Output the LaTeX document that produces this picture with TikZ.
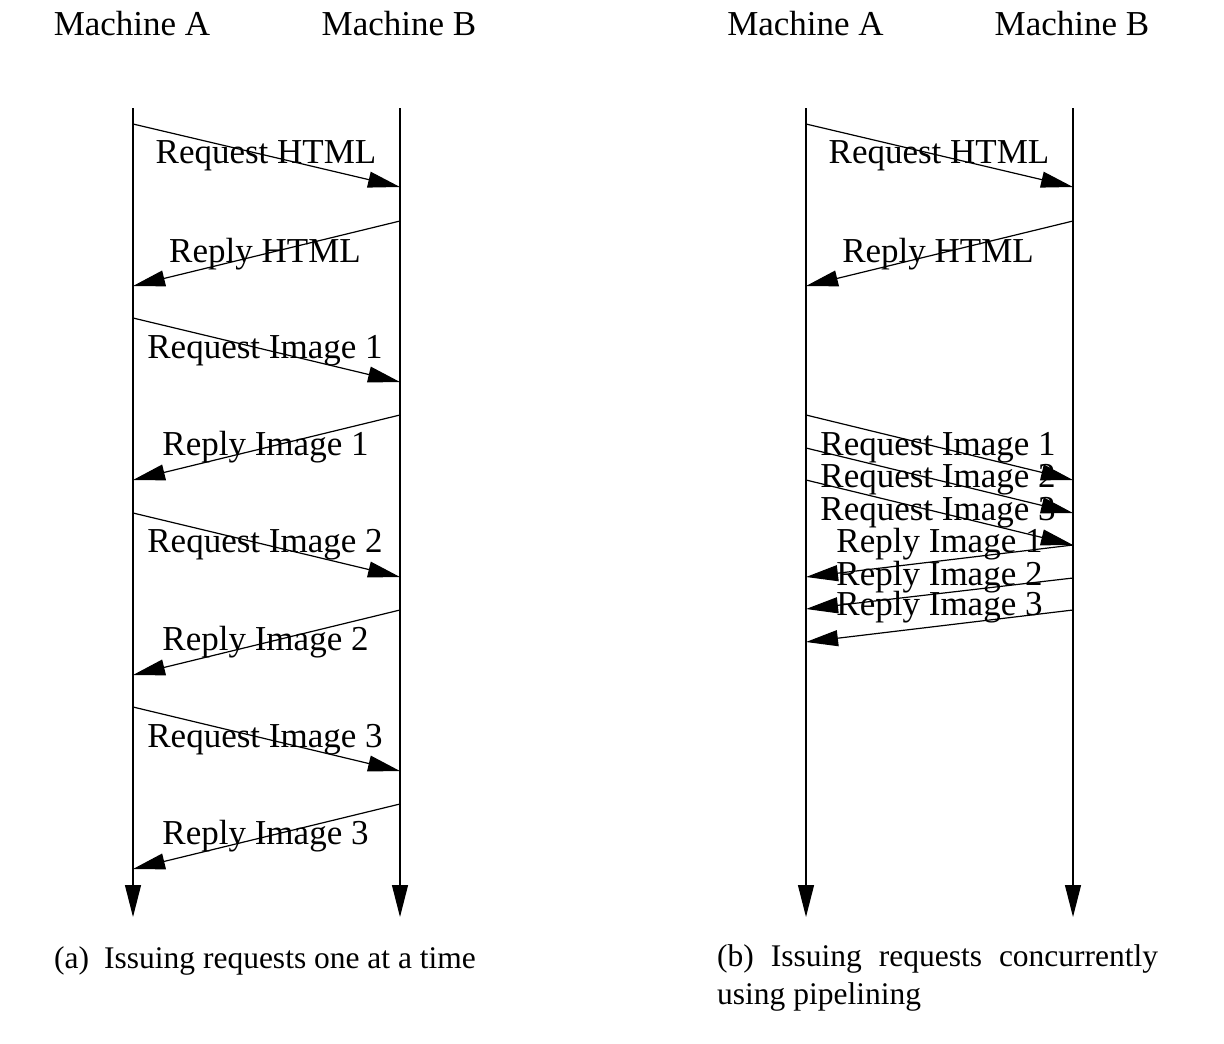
\documentclass[tikz,border=0pt]{standalone}
\usepackage{fontspec}
\setmainfont{Liberation Serif}
\usetikzlibrary{arrows.meta}
\begin{document}
\begin{tikzpicture}[x=1pt,y=-1pt,
  lbl/.style={font=\fontsize{35}{40}\selectfont, inner sep=0pt, anchor=base},
  hdr/.style={font=\fontsize{35}{40}\selectfont, inner sep=0pt, anchor=base},
  capt/.style={font=\fontsize{31.5}{38}\selectfont, inner sep=0pt, anchor=base west},
  life/.style={line width=1.2pt, -{Triangle[length=32pt,width=16pt]}},
  msg/.style={line width=1.2pt, -{Triangle[length=32pt,width=16pt]}}]
\useasboundingbox (0,0) rectangle (1224,1044);
% headers
\node[hdr] (ha1) at (132,35) {Machine A};
\node[hdr] (hb1) at (399,35) {Machine B};
\node[hdr] (ha2) at (805.5,35) {Machine A};
\node[hdr] (hb2) at (1072,35) {Machine B};
% lifelines
\coordinate (a1t) at (133,108); \coordinate (a1b) at (133,917);
\coordinate (b1t) at (400,108); \coordinate (b1b) at (400,917);
\coordinate (a2t) at (806,108); \coordinate (a2b) at (806,917);
\coordinate (b2t) at (1073,108); \coordinate (b2b) at (1073,917);
\draw[life] (a1t) -- (a1b);
\draw[life] (b1t) -- (b1b);
\draw[life] (a2t) -- (a2b);
\draw[life] (b2t) -- (b2b);
% (a) messages
\coordinate (p1) at (133,124); \coordinate (q1) at (400,187);
\coordinate (p2) at (400,221); \coordinate (q2) at (133,286);
\coordinate (p3) at (133,318); \coordinate (q3) at (400,382);
\coordinate (p4) at (400,415); \coordinate (q4) at (133,480);
\coordinate (p5) at (133,513); \coordinate (q5) at (400,577);
\coordinate (p6) at (400,610); \coordinate (q6) at (133,675);
\coordinate (p7) at (133,707); \coordinate (q7) at (400,771);
\coordinate (p8) at (400,804); \coordinate (q8) at (133,869);
\foreach \i in {1,...,8} {\draw[msg] (p\i) -- (q\i);}
\node[lbl] (l1) at (266,163) {Request HTML};
\node[lbl] (l2) at (265,262) {Reply HTML};
\node[lbl] (l3) at (265,358) {Request Image 1};
\node[lbl] (l4) at (265.5,455) {Reply Image 1};
\node[lbl] (l5) at (265,552) {Request Image 2};
\node[lbl] (l6) at (265.5,650) {Reply Image 2};
\node[lbl] (l7) at (265,747) {Request Image 3};
\node[lbl] (l8) at (265.5,844) {Reply Image 3};
% (b) messages
\coordinate (r1) at (806,124); \coordinate (s1) at (1073,187);
\coordinate (r2) at (1073,221); \coordinate (s2) at (806,286);
\coordinate (r3) at (806,415); \coordinate (s3) at (1073,480);
\coordinate (r4) at (806,448); \coordinate (s4) at (1073,513);
\coordinate (r5) at (806,480); \coordinate (s5) at (1073,545);
\coordinate (r6) at (1073,545); \coordinate (s6) at (806,577);
\coordinate (r7) at (1073,578); \coordinate (s7) at (806,609);
\coordinate (r8) at (1073,610); \coordinate (s8) at (806,642);
\foreach \i in {1,...,8} {\draw[msg] (r\i) -- (s\i);}
\node[lbl] (m1) at (939,163) {Request HTML};
\node[lbl] (m2) at (938,262) {Reply HTML};
\node[lbl] (m3) at (938,455) {Request Image 1};
\node[lbl] (m4) at (938,487) {Request Image 2};
\node[lbl] (m5) at (938,520) {Request Image 3};
\node[lbl] (m6) at (939.5,552) {Reply Image 1};
\node[lbl] (m7) at (939.5,585) {Reply Image 2};
\node[lbl] (m8) at (939.5,615) {Reply Image 3};
% captions
\node[capt] (ca) at (54,968) {(a)\hspace{15pt}Issuing requests one at a time};
\node[capt] (cb) at (717,966) {\parbox[t]{441pt}{(b) Issuing requests concurrently using pipelining}};
\end{tikzpicture}
\end{document}
